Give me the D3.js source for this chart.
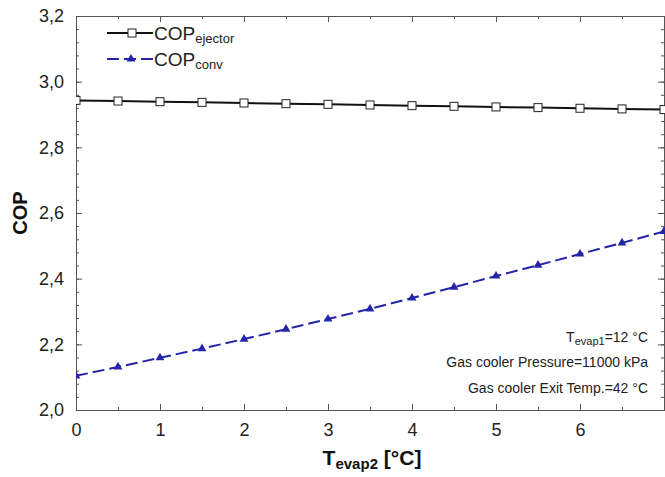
<!DOCTYPE html>
<html><head><meta charset="utf-8">
<script src="https://cdn.jsdelivr.net/npm/d3@7"></script>
<style>body{margin:0;background:#fff;} svg{display:block;font-family:"Liberation Sans",Arial,sans-serif;}</style>
</head><body>
<svg id="c" width="665" height="477"></svg>
<script>
const tevap2 = [0,0.5,1,1.5,2,2.5,3,3.5,4,4.5,5,5.5,6,6.5,7];
const copEjector = [2.943,2.941,2.939,2.937,2.935,2.933,2.931,2.929,2.927,2.925,2.923,2.921,2.919,2.917,2.915];
const copConv = [2.104,2.131,2.159,2.187,2.216,2.246,2.277,2.308,2.341,2.374,2.408,2.441,2.475,2.509,2.544];
const xTicks = [0,1,2,3,4,5,6];
const yTicks = [2.0,2.2,2.4,2.6,2.8,3.0,3.2];
const notes = ["Gas cooler Pressure=11000 kPa","Gas cooler Exit Temp.=42 °C"];

const svg = d3.select("#c");
const L=76, R=664, T=16, B=410;
const x = d3.scaleLinear().domain([0,7]).range([L,R]);
const y = d3.scaleLinear().domain([2.0,3.2]).range([B,T]);
const axisCol = "#555";

svg.append("defs").append("clipPath").attr("id","clip")
  .append("rect").attr("x",L).attr("y",T).attr("width",R-L+2).attr("height",B-T);

const fmt = d => d3.format(".1f")(d).replace(".",",");
const xMinor = d3.range(0,7.01,0.5);
const yMinor = d3.range(2.0,3.2001,0.04);

function styleAxis(g){
  g.select(".domain").attr("stroke",axisCol).attr("stroke-width",1);
  g.selectAll(".tick line").attr("stroke",axisCol);
  g.selectAll("text").attr("fill","#222").style("font-size","18px");
}
// minor ticks
svg.append("g").attr("transform",`translate(0,${B})`).call(d3.axisBottom(x).tickValues(xMinor).tickSize(-3).tickFormat("")).call(styleAxis);
svg.append("g").attr("transform",`translate(0,${T})`).call(d3.axisTop(x).tickValues(xMinor).tickSize(-3).tickFormat("")).call(styleAxis);
svg.append("g").attr("transform",`translate(${L},0)`).call(d3.axisLeft(y).tickValues(yMinor).tickSize(-3).tickFormat("")).call(styleAxis);
svg.append("g").attr("transform",`translate(${R},0)`).call(d3.axisRight(y).tickValues(yMinor).tickSize(-3).tickFormat("")).call(styleAxis);
// major
svg.append("g").attr("transform",`translate(0,${B})`).call(d3.axisBottom(x).tickValues(xTicks).tickSize(-6).tickPadding(13).tickFormat(d3.format("d"))).call(styleAxis);
svg.append("g").attr("transform",`translate(0,${T})`).call(d3.axisTop(x).tickValues(xTicks).tickSize(-6).tickFormat("")).call(styleAxis);
svg.append("g").attr("transform",`translate(${L},0)`).call(d3.axisLeft(y).tickValues(yTicks).tickSize(-6).tickPadding(12).tickFormat(fmt)).call(styleAxis);
svg.append("g").attr("transform",`translate(${R},0)`).call(d3.axisRight(y).tickValues(yTicks).tickSize(-6).tickFormat("")).call(styleAxis);

// series
const plot = svg.append("g").attr("clip-path","url(#clip)");
const line = d3.line().x((d,i)=>x(tevap2[i])).y(d=>y(d));
const blue = "#2424a8";
plot.append("path").attr("d",line(copConv)).attr("fill","none").attr("stroke",blue).attr("stroke-width",2).attr("stroke-dasharray","12,5");
plot.append("path").attr("d",line(copEjector)).attr("fill","none").attr("stroke","#111").attr("stroke-width",2);
const tri = d3.symbol().type(d3.symbolTriangle).size(34);
plot.selectAll(".tri").data(copConv).join("path").attr("transform",(d,i)=>`translate(${x(tevap2[i])},${y(d)})`).attr("d",tri).attr("fill",blue);
plot.selectAll(".sq").data(copEjector).join("rect")
  .attr("x",(d,i)=>x(tevap2[i])-4).attr("y",d=>y(d)-4).attr("width",8).attr("height",8)
  .attr("fill","#fff").attr("stroke","#222").attr("stroke-width",1);

// legend
const lg = svg.append("g");
lg.append("line").attr("x1",107).attr("x2",153).attr("y1",33).attr("y2",33).attr("stroke","#111").attr("stroke-width",2);
lg.append("rect").attr("x",128).attr("y",29).attr("width",8).attr("height",8).attr("fill","#fff").attr("stroke","#222");
const t1 = lg.append("text").attr("x",154).attr("y",40).attr("fill","#222").style("font-size","19px");
t1.append("tspan").text("COP");
t1.append("tspan").attr("dy",3).style("font-size","13px").text("ejector");
lg.append("line").attr("x1",107).attr("x2",153).attr("y1",59).attr("y2",59).attr("stroke",blue).attr("stroke-width",2).attr("stroke-dasharray","12,5");
lg.append("path").attr("transform","translate(131,59)").attr("d",tri).attr("fill",blue);
const t2 = lg.append("text").attr("x",154).attr("y",66).attr("fill","#222").style("font-size","19px");
t2.append("tspan").text("COP");
t2.append("tspan").attr("dy",3).style("font-size","13px").text("conv");

// notes
const nt = svg.append("text").attr("x",648).attr("y",342).attr("text-anchor","end").attr("fill","#222").style("font-size","14px");
nt.append("tspan").text("T");
nt.append("tspan").attr("dy",3).style("font-size","11px").text("evap1");
nt.append("tspan").attr("dy",-3).text("=12 °C");
notes.forEach((n,i)=>svg.append("text").attr("x",648).attr("y",367+i*26).attr("text-anchor","end").attr("fill","#222").style("font-size","14px").text(n));

// axis titles
svg.append("text").attr("transform",`translate(27,${(T+B)/2}) rotate(-90)`).attr("text-anchor","middle").attr("fill","#111").style("font-size","20px").style("font-weight","bold").text("COP");
const xt = svg.append("text").attr("x",372).attr("y",465).attr("text-anchor","middle").attr("fill","#111").style("font-size","21px").style("font-weight","bold");
xt.append("tspan").text("T");
xt.append("tspan").attr("dy",4).style("font-size","15px").text("evap2");
xt.append("tspan").attr("dy",-4).text(" [°C]");
</script>
</body></html>
